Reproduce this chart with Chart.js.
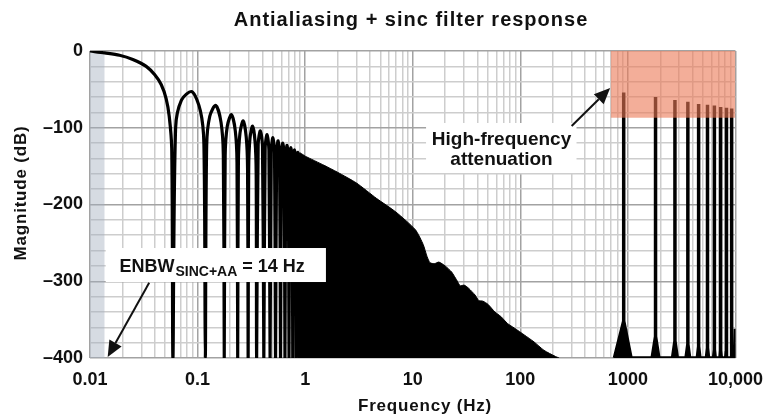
<!DOCTYPE html>
<html>
<head>
<meta charset="utf-8">
<title>Antialiasing + sinc filter response</title>
<script src="https://cdn.jsdelivr.net/npm/chart.js@4.4.1/dist/chart.umd.min.js"></script>
<style>
  html, body { margin: 0; padding: 0; background: #fff; }
  #wrap { width: 774px; height: 417px; }
</style>
</head>
<body>
<div id="wrap"><canvas id="filterChart" width="774" height="417"></canvas></div>
<script>
// Sinc response: main lobe and the separate side lobes (Hz, dB)
const lobeFreq = [0.01, 0.0137, 0.0188, 0.025, 0.0333, 0.04, 0.046, 0.051, 0.0545, 0.0575, 0.059,
  0.0625, 0.0708, 0.0885, 0.1062, 0.1145, 0.118,
  0.1215, 0.1298, 0.1475, 0.1652, 0.1735, 0.177,
  0.1805, 0.1888, 0.2065, 0.2242, 0.2325, 0.236,
  0.2395, 0.2478, 0.2655, 0.2832, 0.2915, 0.295,
  0.2985, 0.3068, 0.3245, 0.3422, 0.3505, 0.354,
  0.3658, 0.3835, 0.4012, 0.413,
  0.4248, 0.4425, 0.4602, 0.472,
  0.4838, 0.5015, 0.5192, 0.531,
  0.5428, 0.5605, 0.5782, 0.59,
  0.6018, 0.6195, 0.6372, 0.649,
  0.6608, 0.6785, 0.6962, 0.708,
  0.7198, 0.7375, 0.7552, 0.767,
  0.7788, 0.7965, 0.8142, 0.826,
  0.8378, 0.8555, 0.8732, 0.885];
const lobeDb = [0, -2.5, -5.5, -11, -20, -31, -44, -62, -85, -127, -400,
  -100, -64, -53, -78, -121, -400,
  -123, -85, -71, -93, -135, -400,
  -137, -98, -83, -104, -145, -400,
  -146, -107, -91, -112, -153, -400,
  -154, -114, -98, -118, -159, -400,
  -121, -104, -124, -400,
  -126, -109, -129, -400,
  -130, -113, -133, -400,
  -134, -117, -137, -400,
  -138, -120, -140, -400,
  -141, -123, -143, -400,
  -144, -126, -146, -400,
  -147, -129, -149, -400,
  -150, -132, -151, -400];

// Dense part of the response, drawn as a filled envelope
const denseFreq = [0.885, 0.885, 1, 1.5, 2, 3, 4.6, 7, 10.6, 12.5, 13.6, 14.5, 16, 17.5, 20, 23, 26, 27.6,
  30, 33, 38, 41, 45, 50, 58, 66, 76, 88, 109, 134, 166, 212, 230];
const denseDb = [-400, -133, -137, -149, -158, -172, -192, -210, -233, -252, -268, -276, -277, -275, -280, -288, -300, -306,
  -305, -309, -318, -325, -326, -330, -340, -346, -355, -361, -370, -379, -390, -398, -400];

// Aliased images near multiples of the modulator rate
const spikeFreq = [914, 1807, 2737, 3609, 4544, 5495, 6370, 7282, 8219, 9189, 10000];
const spikeTop  = [-54, -60, -64, -66, -69, -70, -71, -73, -74, -75, -362];
const spikeNeck = [-352, -372, -378, -382, -385, -387, -389, -390, -391, -392, -362];
const spikeLo   = [750, 1680, 2600, 3470, 4420, 5370, 6260, 7180, 8120, 9100, 9880];
const spikeHi   = [1070, 1940, 2880, 3750, 4670, 5620, 6480, 7380, 8320, 9280, 10000];

// Shaded zones
const enbwZoneFreq = [0.01, 0.0137];
const hfZoneFreq = [692, 10000];
const hfZoneDb = [-87, -87];

// Axes
const xDecades = [0.01, 0.1, 1, 10, 100, 1000, 10000];
const xTickLabels = ['0.01', '0.1', '1', '10', '100', '1000', '10,000'];
const yTickValues = [0, -100, -200, -300, -400];
const yTickLabels = ['0', '\u2013100', '\u2013200', '\u2013300', '\u2013400'];

const FONT = "'Liberation Sans', Arial, Helvetica, sans-serif";
const Y_MIN = -400, Y_MAX = 0;

function zip(xs, ys) {
    return xs.map((x, i) => ({ x: x, y: ys[i] }));
}

const spikePoints = [];
spikeFreq.forEach((f, i) => {
    spikePoints.push({ x: spikeLo[i], y: Y_MIN });
    spikePoints.push({ x: f, y: spikeNeck[i] });
    spikePoints.push({ x: f, y: spikeTop[i] });
    spikePoints.push({ x: f, y: spikeNeck[i] });
    spikePoints.push({ x: spikeHi[i], y: Y_MIN });
});

function isDecade(v) {
    return xDecades.findIndex(d => Math.abs(v - d) / d < 1e-6);
}

// Titles, boxes and arrows
const notesPlugin = {
    id: 'notes',
    afterDatasetsDraw(chart) {
        const { ctx, scales: { x, y } } = chart;
        const px = f => x.getPixelForValue(f);
        const py = d => y.getPixelForValue(d);
        ctx.save();

        // ENBW label box
        ctx.fillStyle = '#fff';
        ctx.fillRect(px(0.0140), py(-256.7), px(1.56) - px(0.0140), py(-301) - py(-256.7));
        // High-frequency label box
        ctx.fillRect(px(13.3), py(-93.8), px(333) - px(13.3), py(-159) - py(-93.8));

        ctx.fillStyle = '#111';
        ctx.textBaseline = 'alphabetic';
        ctx.textAlign = 'left';
        let tx = px(0.0188);
        const tb = py(-288);
        ctx.font = 'bold 18px ' + FONT;
        ctx.fillText('ENBW', tx, tb);
        tx += ctx.measureText('ENBW').width + 1;
        ctx.font = 'bold 14px ' + FONT;
        ctx.fillText('SINC+AA', tx, tb + 4);
        tx += ctx.measureText('SINC+AA').width;
        ctx.font = 'bold 18px ' + FONT;
        ctx.fillText(' = 14 Hz', tx, tb);

        ctx.textAlign = 'center';
        ctx.font = 'bold 19px ' + FONT;
        ctx.fillText('High-frequency', px(66.9), py(-122.5));
        ctx.fillText('attenuation', px(66.9), py(-148.5));

        drawArrow(ctx, px(0.0355), py(-302), px(0.0146), py(-398.7));
        drawArrow(ctx, px(300), py(-97.7), px(684), py(-48.2));
        ctx.restore();
    },
    afterDraw(chart) {
        const ctx = chart.ctx;
        ctx.save();
        ctx.fillStyle = '#111';
        ctx.textAlign = 'center';
        ctx.textBaseline = 'alphabetic';
        ctx.letterSpacing = '1px';
        ctx.font = 'bold 20px ' + FONT;
        ctx.fillText('Antialiasing + sinc filter response', 411, 26);
        ctx.letterSpacing = '0.8px';
        ctx.font = 'bold 17px ' + FONT;
        ctx.fillText('Frequency (Hz)', 425, 411);
        ctx.translate(26, 193);
        ctx.rotate(-Math.PI / 2);
        ctx.fillText('Magnitude (dB)', 0, 0);
        ctx.restore();
    }
};

function drawArrow(ctx, x0, y0, x1, y1) {
    const ang = Math.atan2(y1 - y0, x1 - x0);
    const len = 16, half = 7;
    const bx = x1 - len * Math.cos(ang), by = y1 - len * Math.sin(ang);
    ctx.strokeStyle = '#111';
    ctx.lineWidth = 2;
    ctx.beginPath();
    ctx.moveTo(x0, y0);
    ctx.lineTo(bx, by);
    ctx.stroke();
    ctx.beginPath();
    ctx.moveTo(x1, y1);
    ctx.lineTo(bx + half * Math.sin(ang), by - half * Math.cos(ang));
    ctx.lineTo(bx - half * Math.sin(ang), by + half * Math.cos(ang));
    ctx.closePath();
    ctx.fillStyle = '#111';
    ctx.fill();
}

const ctx = document.getElementById('filterChart').getContext('2d');

const filterChart = new Chart(ctx, {
    type: 'line',
    data: {
        datasets: [
            {
                label: 'High-frequency attenuation',
                data: zip(hfZoneFreq, hfZoneDb),
                borderWidth: 0,
                backgroundColor: 'rgba(235, 120, 85, 0.6)',
                fill: 'end'
            },
            {
                label: 'Images',
                data: spikePoints,
                borderColor: '#000',
                borderWidth: 3.5,
                backgroundColor: '#000',
                fill: 'start',
                tension: 0
            },
            {
                label: 'Response (lobes)',
                data: zip(lobeFreq, lobeDb),
                borderColor: '#000',
                borderWidth: 3.2,
                fill: false,
                tension: 0.3
            },
            {
                label: 'Response (dense)',
                data: zip(denseFreq, denseDb),
                borderColor: '#000',
                borderWidth: 1,
                backgroundColor: '#000',
                fill: 'start',
                tension: 0.2
            },
            {
                label: 'ENBW band',
                data: zip(enbwZoneFreq, [Y_MIN, Y_MIN]),
                borderWidth: 0,
                backgroundColor: 'rgba(165, 175, 190, 0.45)',
                fill: 'end'
            }
        ]
    },
    options: {
        responsive: false,
        animation: false,
        devicePixelRatio: 1,
        layout: { padding: { top: 51, right: 30, left: 0, bottom: 0 } },
        elements: { point: { radius: 0, hoverRadius: 0 } },
        plugins: {
            legend: { display: false },
            tooltip: { enabled: false },
            title: { display: false }
        },
        scales: {
            x: {
                type: 'logarithmic',
                min: 0.01,
                max: 10000,
                border: { display: false },
                afterBuildTicks: (scale) => {
                    const t = [];
                    xDecades.forEach((d, i) => {
                        const last = i === xDecades.length - 1 ? 1 : 9;
                        for (let m = 1; m <= last; m++) t.push({ value: d * m });
                    });
                    scale.ticks = t;
                },
                afterFit: (scale) => { scale.height = 59; },
                grid: {
                    drawTicks: false,
                    lineWidth: 1.5,
                    color: (c) => isDecade(c.tick.value) >= 0 ? '#a2a2a2' : '#cdcdcd'
                },
                ticks: {
                    autoSkip: false,
                    maxRotation: 0,
                    padding: 11,
                    color: '#111',
                    font: { family: FONT, size: 18, weight: 'bold' },
                    callback: (v) => {
                        const i = isDecade(v);
                        return i >= 0 ? xTickLabels[i] : '';
                    }
                }
            },
            y: {
                min: Y_MIN,
                max: Y_MAX,
                border: { display: false },
                afterFit: (scale) => { scale.width = 90; },
                grid: {
                    drawTicks: false,
                    lineWidth: 1.5,
                    color: (c) => c.tick.value % 100 === 0 ? '#a2a2a2' : '#cdcdcd'
                },
                ticks: {
                    stepSize: 20,
                    autoSkip: false,
                    padding: 7,
                    color: '#111',
                    font: { family: FONT, size: 18, weight: 'bold' },
                    callback: (v) => {
                        const i = yTickValues.indexOf(v);
                        return i >= 0 ? yTickLabels[i] : '';
                    }
                }
            }
        }
    },
    plugins: [notesPlugin]
});
</script>
</body>
</html>
